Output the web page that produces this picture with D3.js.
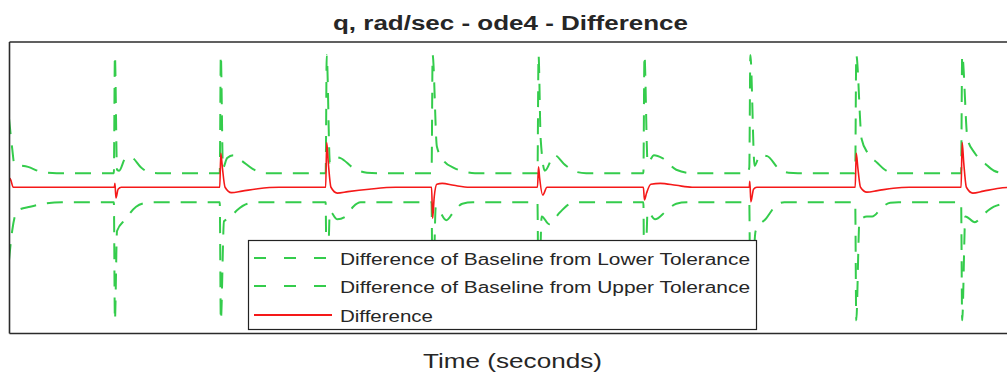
<!DOCTYPE html>
<html>
<head>
<meta charset="utf-8">
<script src="https://cdn.jsdelivr.net/npm/d3@7"></script>
<style>
  html, body { margin: 0; padding: 0; background: #fff; }
  svg { display: block; }
  text { font-family: "Liberation Sans", Arial, Helvetica, sans-serif; fill: #262626; }
</style>
</head>
<body>
<svg id="chart" width="1007" height="377"></svg>
<script>
// ---------- data (time in seconds, value in rad/sec) ----------
const titleText = "q, rad/sec - ode4 - Difference";
const xLabelText = "Time (seconds)";
const legendLabels = [
  "Difference of Baseline from Lower Tolerance",
  "Difference of Baseline from Upper Tolerance",
  "Difference"
];
const timeDomain = [0, 9.48];
const valueDomain = [-1.5, 1.5];

const lowerTolDiff = [
  [0, -0.75], [0.03, -0.45], [0.08, -0.24], [0.2, -0.2], [0.35, -0.165], [0.5, -0.155],
  [0.99, -0.155], [1.0, -1.37], [1.02, -0.45], [1.1, -0.33], [1.2, -0.2], [1.3, -0.16], [1.4, -0.155],
  [1.99, -0.155], [2.0, -1.37], [2.03, -0.35], [2.08, -0.32], [2.15, -0.24], [2.25, -0.17], [2.35, -0.155],
  [2.99, -0.155], [3.0, -1.37], [3.03, -0.25], [3.1, -0.33], [3.18, -0.3], [3.25, -0.2], [3.32, -0.155],
  [3.99, -0.155], [4.0, -1.37], [4.03, -0.2], [4.13, -0.34], [4.2, -0.25], [4.28, -0.17], [4.38, -0.155],
  [4.99, -0.155], [5.0, -1.37], [5.03, -0.3], [5.1, -0.38], [5.2, -0.26], [5.3, -0.17], [5.4, -0.155],
  [5.99, -0.155], [6.0, -1.37], [6.03, -0.25], [6.1, -0.33], [6.2, -0.25], [6.3, -0.17], [6.4, -0.155],
  [6.99, -0.155], [7.0, -1.37], [7.05, -0.45], [7.15, -0.32], [7.25, -0.18], [7.32, -0.155],
  [7.99, -0.155], [8.0, -1.37], [8.03, -0.35], [8.1, -0.3], [8.15, -0.3], [8.25, -0.2], [8.32, -0.16], [8.4, -0.155],
  [8.99, -0.155], [9.0, -1.37], [9.03, -0.3], [9.12, -0.36], [9.2, -0.28], [9.3, -0.2], [9.45, -0.16], [9.48, -0.155]
];

const upperTolDiff = [
  [0, 0.71], [0.03, 0.40], [0.05, 0.24], [0.18, 0.21], [0.3, 0.16], [0.45, 0.145],
  [0.99, 0.145], [1.0, 1.36], [1.02, 0.18], [1.04, 0.17], [1.1, 0.3], [1.15, 0.31], [1.25, 0.2], [1.33, 0.15], [1.4, 0.145],
  [1.99, 0.145], [2.0, 1.36], [2.02, 0.2], [2.06, 0.3], [2.12, 0.33], [2.2, 0.27], [2.3, 0.19], [2.42, 0.145],
  [2.99, 0.145], [3.0, 1.36], [3.03, 0.25], [3.08, 0.31], [3.13, 0.3], [3.25, 0.2], [3.38, 0.15], [3.5, 0.145],
  [3.99, 0.145], [4.0, 1.36], [4.04, 0.42], [4.1, 0.28], [4.2, 0.2], [4.3, 0.16], [4.4, 0.145],
  [4.99, 0.145], [5.0, 1.36], [5.02, 0.5], [5.06, 0.17], [5.15, 0.33], [5.25, 0.23], [5.35, 0.16], [5.45, 0.145],
  [5.99, 0.145], [6.0, 1.36], [6.03, 0.25], [6.09, 0.33], [6.17, 0.3], [6.3, 0.18], [6.45, 0.145],
  [6.97, 0.145], [6.99, 0.2], [7.0, 1.36], [7.04, 0.22], [7.09, 0.33], [7.16, 0.32], [7.26, 0.2], [7.36, 0.15], [7.45, 0.145],
  [7.99, 0.145], [8.0, 1.36], [8.05, 0.5], [8.11, 0.35], [8.2, 0.25], [8.27, 0.18], [8.35, 0.145],
  [8.99, 0.145], [9.0, 1.36], [9.05, 0.5], [9.12, 0.35], [9.22, 0.24], [9.3, 0.17], [9.4, 0.145], [9.48, 0.145]
];

const difference = [
  [0, 0.05], [0.01, 0.09], [0.04, 0.0],
  [0.995, 0], [1.0, 0.04], [1.01, -0.11], [1.03, -0.02], [1.06, 0],
  [1.99, 0], [2.0, 0.35], [2.015, 0.2], [2.04, 0.0], [2.1, -0.055], [2.2, -0.04], [2.35, -0.015], [2.55, 0],
  [2.99, 0], [3.0, 0.46], [3.015, 0.25], [3.04, 0.0], [3.1, -0.06], [3.2, -0.045], [3.4, -0.02], [3.65, 0],
  [3.99, 0], [4.0, -0.32], [4.015, -0.1], [4.04, 0.03], [4.09, 0.04], [4.2, 0.02], [4.35, 0],
  [4.99, 0], [5.0, 0.21], [5.01, 0.1], [5.04, -0.08], [5.08, 0],
  [5.99, 0], [6.0, -0.13], [6.02, -0.06], [6.06, 0.03], [6.15, 0.04], [6.3, 0.02], [6.45, 0],
  [6.99, 0], [6.995, 0.06], [7.005, -0.15], [7.03, -0.02], [7.06, 0],
  [7.99, 0], [8.0, 0.35], [8.015, 0.2], [8.04, 0.0], [8.1, -0.05], [8.2, -0.035], [8.35, -0.01], [8.5, 0],
  [8.99, 0], [9.0, 0.46], [9.015, 0.25], [9.04, 0.0], [9.1, -0.06], [9.2, -0.04], [9.35, -0.01], [9.48, 0]
];

// ---------- layout ----------
const plot = { left: 9, right: 1013, top: 41.5, bottom: 333 };
const green = "rgb(52,204,76)";
const red = "rgb(245,25,25)";

const svg = d3.select("#chart");

const x = d3.scaleLinear().domain(timeDomain).range([plot.left, plot.right]);
const y = d3.scaleLinear().domain(valueDomain).range([plot.bottom, plot.top]);

svg.append("defs").append("clipPath").attr("id", "clip")
  .append("rect")
  .attr("x", plot.left).attr("y", plot.top)
  .attr("width", plot.right - plot.left).attr("height", plot.bottom - plot.top);

const line = d3.line()
  .x(d => x(d[0]))
  .y(d => y(d[1]))
  .curve(d3.curveMonotoneX);

const g = svg.append("g").attr("clip-path", "url(#clip)");

const series = [
  { data: lowerTolDiff, color: green, dash: "16 11", width: 2 },
  { data: upperTolDiff, color: green, dash: "16 11", width: 2 },
  { data: difference, color: red, dash: null, width: 1.6 }
];

g.selectAll("path.series")
  .data(series)
  .join("path")
  .attr("class", "series")
  .attr("d", d => line(d.data))
  .attr("fill", "none")
  .attr("stroke", d => d.color)
  .attr("stroke-width", d => d.width)
  .attr("stroke-dasharray", d => d.dash)
  .attr("stroke-linejoin", "round");

// ---------- axes (box, no ticks) ----------
const axisStyle = sel => {
  sel.selectAll("path.domain").attr("stroke", "#2b2b2b").attr("stroke-width", 1.6);
  sel.selectAll(".tick").remove();
};
svg.append("g").attr("transform", `translate(0,${plot.bottom})`)
  .call(d3.axisBottom(x).ticks(0).tickSizeOuter(0)).call(axisStyle);
svg.append("g").attr("transform", `translate(0,${plot.top})`)
  .call(d3.axisTop(x).ticks(0).tickSizeOuter(0)).call(axisStyle);
svg.append("g").attr("transform", `translate(${plot.left},0)`)
  .call(d3.axisLeft(y).ticks(0).tickSizeOuter(0)).call(axisStyle);

// ---------- title & label ----------
svg.append("text")
  .attr("x", 510.5).attr("y", 30)
  .attr("text-anchor", "middle")
  .attr("font-size", 20).attr("font-weight", "bold")
  .attr("fill", "#111")
  .attr("textLength", 355).attr("lengthAdjust", "spacingAndGlyphs")
  .text(titleText);

svg.append("text")
  .attr("x", 512.5).attr("y", 368)
  .attr("text-anchor", "middle")
  .attr("font-size", 21)
  .attr("fill", "#333")
  .attr("textLength", 179).attr("lengthAdjust", "spacingAndGlyphs")
  .text(xLabelText);

// ---------- legend ----------
const legend = svg.append("g");
legend.append("rect")
  .attr("x", 248.5).attr("y", 240.5)
  .attr("width", 508).attr("height", 89)
  .attr("fill", "#fff").attr("stroke", "#222").attr("stroke-width", 1.2);

const legendItems = [
  { label: legendLabels[0], color: green, dash: "12 18", base: 265, len: 410 },
  { label: legendLabels[1], color: green, dash: "12 18", base: 293, len: 410 },
  { label: legendLabels[2], color: red, dash: null, base: 322, len: 93 }
];
const li = legend.selectAll("g.item").data(legendItems).join("g").attr("class", "item");
li.append("line")
  .attr("x1", 254).attr("x2", 332)
  .attr("y1", d => d.base - 7).attr("y2", d => d.base - 7)
  .attr("stroke", d => d.color)
  .attr("stroke-width", d => d.dash ? 2 : 1.8)
  .attr("stroke-dasharray", d => d.dash);
li.append("text")
  .attr("x", 340).attr("y", d => d.base)
  .attr("font-size", 16)
  .attr("fill", "#1a1a1a")
  .attr("textLength", d => d.len).attr("lengthAdjust", "spacingAndGlyphs")
  .text(d => d.label);
</script>
</body>
</html>
